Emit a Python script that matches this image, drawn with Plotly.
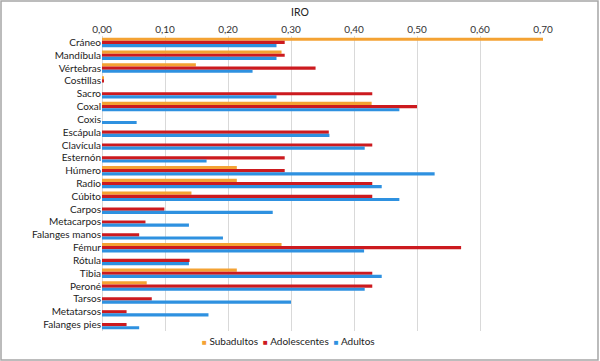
import plotly.graph_objects as go

categories = ["Cráneo", "Mandíbula", "Vértebras", "Costillas", "Sacro", "Coxal", "Coxis",
              "Escápula", "Clavícula", "Esternón", "Húmero", "Radio", "Cúbito", "Carpos",
              "Metacarpos", "Falanges manos", "Fémur", "Rótula", "Tibia", "Peroné",
              "Tarsos", "Metatarsos", "Falanges pies"]

subadultos = [0.70, 0.285, 0.149, 0.003, 0, 0.428, 0,
              0, 0, 0, 0.214, 0.214, 0.142, 0,
              0, 0, 0.285, 0, 0.214, 0.071,
              0, 0, 0]
adolescentes = [0.29, 0.29, 0.339, 0.003, 0.429, 0.50, 0,
                0.36, 0.429, 0.29, 0.29, 0.429, 0.429, 0.099,
                0.069, 0.059, 0.57, 0.139, 0.429, 0.429,
                0.079, 0.039, 0.039]
adultos = [0.277, 0.277, 0.239, 0, 0.277, 0.472, 0.055,
           0.361, 0.417, 0.166, 0.528, 0.444, 0.472, 0.271,
           0.138, 0.192, 0.416, 0.138, 0.444, 0.417,
           0.30, 0.169, 0.059]

series = [("Subadultos", subadultos, "#F4A233"),
          ("Adolescentes", adolescentes, "#CC1A1F"),
          ("Adultos", adultos, "#2E91E0")]

fig = go.Figure()
for name, vals, col in series:
    fig.add_trace(go.Bar(y=categories, x=vals, name=name, orientation="h",
                         marker=dict(color=col, line=dict(width=0)),
                         showlegend=False))

font_family = "Lato, 'Open Sans', sans-serif"
fig.update_layout(
    width=600, height=361,
    barmode="group", bargap=0.26, bargroupgap=0,
    separators=",.",
    paper_bgcolor="white", plot_bgcolor="white",
    margin=dict(l=102, r=57, t=36, b=30, autoexpand=False),
    font=dict(family=font_family, size=10, color="#222222"),
    title=dict(text="IRO", x=0.5, xref="container", xanchor="center",
               y=1 - 12 / 361, yanchor="middle",
               font=dict(family=font_family, size=10.5, color="#222222", weight="normal")),
    xaxis=dict(side="top", range=[0, 0.70], dtick=0.1, tickformat=".2f",
               showgrid=True, gridcolor="#d9d9d9", gridwidth=1,
               zeroline=True, zerolinecolor="#d9d9d9", zerolinewidth=1,
               showline=False, ticks="", ticklen=0,
               tickfont=dict(size=10, color="#333333")),
    yaxis=dict(autorange="reversed", showgrid=False, ticks="", showline=False,
               tickmode="array", tickvals=categories,
               tickfont=dict(size=10, color="#222222"), ticksuffix="   "),
    showlegend=False,
)

# legend drawn as text with coloured squares
legend_parts = []
for name, _, col in series:
    legend_parts.append(f'<span style="color:{col};font-size:8px">■</span> {name}')
fig.add_annotation(text="  ".join(legend_parts), xref="paper", yref="paper",
                   x=(288 - 102) / 441, y=(331 - 341) / 295, xanchor="center", yanchor="middle",
                   showarrow=False, font=dict(family=font_family, size=10, color="#222222"))

fig.add_shape(type="rect", xref="paper", yref="paper",
              x0=-0.2290, x1=1.1247, y0=-0.0983, y1=1.1186,
              line=dict(color="#a6a6a6", width=1.5), fillcolor="rgba(0,0,0,0)",
              layer="below")

fig.write_html("out.html", config={"displayModeBar": False},
               post_script="document.body.style.margin='0';document.body.style.overflow='hidden';")
